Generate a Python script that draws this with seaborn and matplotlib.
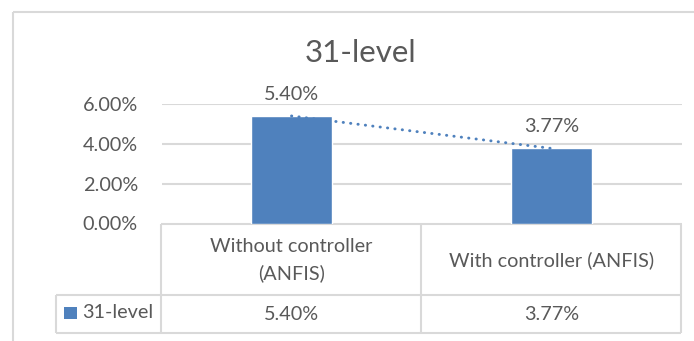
import matplotlib
matplotlib.use("Agg")
import matplotlib.pyplot as plt
import seaborn as sns
import pandas as pd
import numpy as np
from matplotlib.patches import Rectangle
from matplotlib.ticker import FuncFormatter

# ---- data ----
title = "31-level"
series_name = "31-level"
categories = ["Without controller\n(ANFIS)", "With controller (ANFIS)"]
values = [0.0540, 0.0377]
y_ticks = [0.0, 0.02, 0.04, 0.06]

BAR = "#4F81BD"
GRID = "#D9D9D9"
TXT = "#595959"
FS = 14.3

sns.set_style("white")
plt.rcParams["font.family"] = ["Lato", "DejaVu Sans"]

W, H = 694, 341
fig = plt.figure(figsize=(W / 100, H / 100), dpi=100)

def fx(px):
    return px / W

def fy(py):
    return 1 - py / H

# main axes: pixel box left 161.5, right 681.5, top 104 (6%), bottom 223.5 (0%)
ax_l, ax_r, ax_t, ax_b = 161.5, 681.5, 104.0, 223.5
ax = fig.add_axes([fx(ax_l), fy(ax_b), (ax_r - ax_l) / W, (ax_b - ax_t) / H])

df = pd.DataFrame({"cat": categories, "val": values})
sns.barplot(data=df, x="cat", y="val", color=BAR, saturation=1, width=0.313, ax=ax, zorder=3)

# linear trendline through the bar tops
xs = np.arange(len(values))
coef = np.polyfit(xs, values, 1)
ax.plot(xs, np.polyval(coef, xs), color=BAR, lw=2.1, linestyle=(0, (0.1, 2.45)),
        dash_capstyle="round", zorder=4, clip_on=False)

ax.set_xlim(-0.5, len(values) - 0.5)
ax.set_ylim(0, max(y_ticks))
ax.set_yticks(y_ticks)
ax.yaxis.set_major_formatter(FuncFormatter(lambda v, p: f"{v*100:.2f}%"))
ax.grid(axis="y", color=GRID, lw=1.5, zorder=0)
ax.set_axisbelow(True)
for s in ["top", "right", "left", "bottom"]:
    ax.spines[s].set_visible(False)
ax.tick_params(axis="y", length=0, pad=17, labelsize=FS, labelcolor=TXT)
ax.tick_params(axis="x", length=0, labelbottom=False)
ax.set_xlabel("")
ax.set_ylabel("")

# data labels
for i, v in enumerate(values):
    ax.annotate(f"{v*100:.2f}%", (i, v), xytext=(0, 15.5), textcoords="offset points",
                ha="center", va="center", fontsize=FS, color=TXT, annotation_clip=False)

# overlay in pixel coordinates for frame, title and data table
ov = fig.add_axes([0, 0, 1, 1], zorder=-1)
ov.set_xlim(0, W)
ov.set_ylim(H, 0)
ov.axis("off")
ov.patch.set_alpha(0)

# chart frame (cropped at right/bottom)
ov.add_patch(Rectangle((13.5, 12), 1000, 1000, fill=False, ec=GRID, lw=1.5))

ov.text(361, 53, title, ha="center", va="center", fontsize=22.5, color=TXT)

# data table grid
lc = dict(color=GRID, lw=1.5, solid_capstyle="butt")
col_edges = [ax_l + 260 * i for i in range(len(categories) + 1)]
row_top, row_mid, row_bot = 223.5, 294.5, 332.5
tab_left = 56
ov.plot([ax_l, ax_r], [row_top, row_top], **lc)
ov.plot([tab_left, ax_r], [row_mid, row_mid], **lc)
ov.plot([tab_left, ax_r], [row_bot, row_bot], **lc)
ov.plot([tab_left, tab_left], [row_mid, row_bot], **lc)
for xe in col_edges:
    ov.plot([xe, xe], [row_top, row_bot], **lc)

for i, (c, v) in enumerate(zip(categories, values)):
    cx = (col_edges[i] + col_edges[i + 1]) / 2
    ov.text(cx, 260, c, ha="center", va="center", fontsize=FS, color=TXT,
            linespacing=1.65, multialignment="center")
    ov.text(cx, 314, f"{v*100:.2f}%", ha="center", va="center", fontsize=FS, color=TXT)

# legend key in table
ov.add_patch(Rectangle((64, 306.7), 12.7, 12.7, color=BAR, lw=0))
ov.text(82.3, 313, series_name, ha="left", va="center", fontsize=FS, color=TXT)

fig.savefig("out.png", dpi=100)
